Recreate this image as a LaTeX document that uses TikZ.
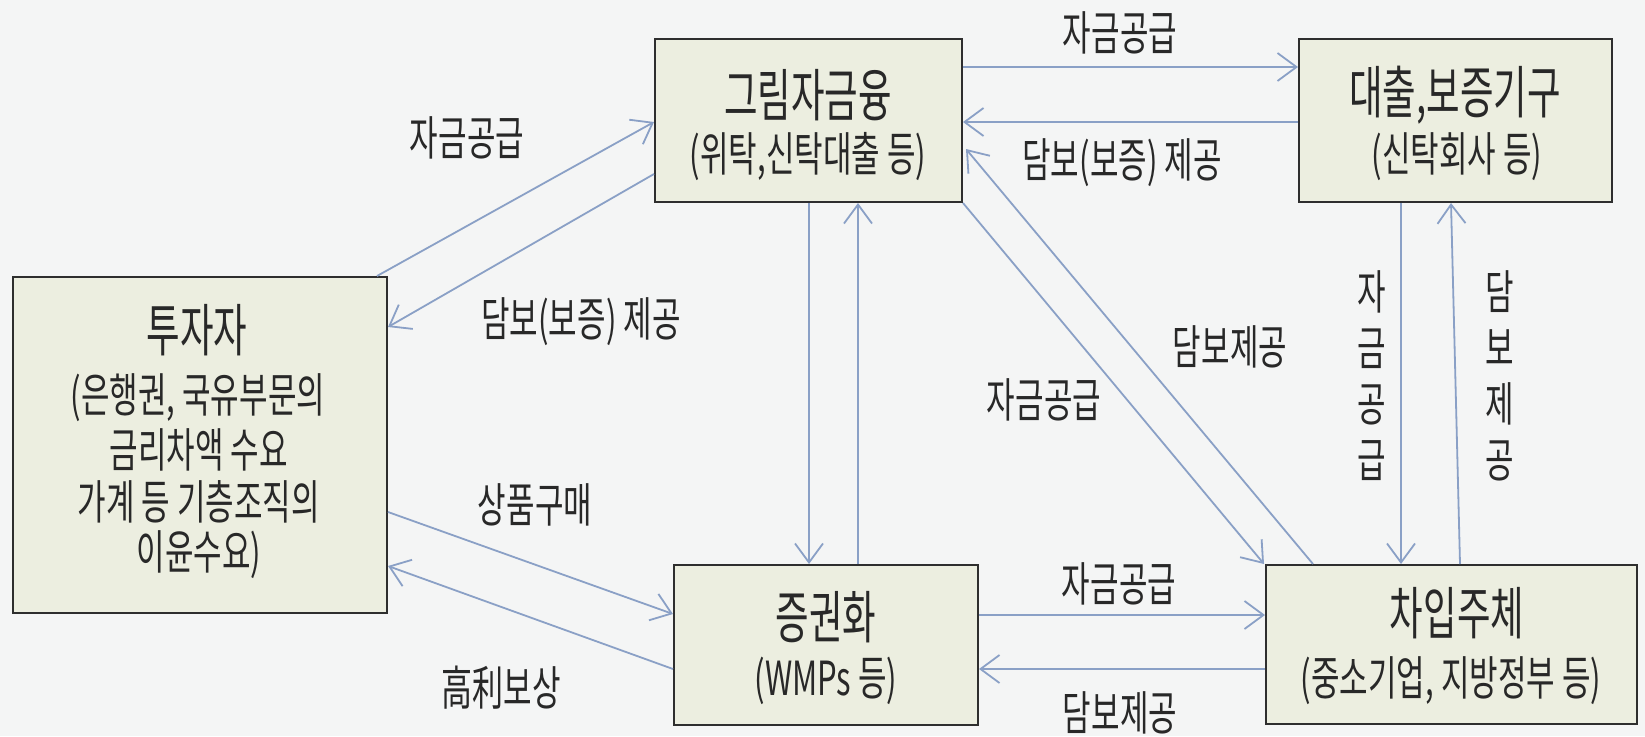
\documentclass[tikz,border=0pt]{standalone}
\usepackage{fontspec}
\usetikzlibrary{arrows.meta,calc}
\newfontfamily\krtitle[FakeStretch=0.64]{Noto Sans CJK KR}
\newfontfamily\krfont[FakeStretch=0.66]{Noto Sans CJK KR}
\newcommand\titlefont{\krtitle\fontsize{57}{62}\selectfont}
\newcommand\labfont{\krfont\fontsize{47}{52}\selectfont}
\newcommand\vlabfont{\krfont\fontsize{47}{56}\selectfont}
\definecolor{bgc}{HTML}{F4F5F5}
\definecolor{boxfill}{HTML}{ECEEE0}
\definecolor{boxline}{HTML}{2E2E2E}
\definecolor{arrowc}{HTML}{8AA0C6}
\definecolor{textc}{HTML}{282828}
\tikzset{
  box/.style={draw=boxline, line width=2pt, fill=boxfill, inner sep=0pt},
  ttl/.style={text=textc, inner sep=0pt, font=\titlefont},
  lab/.style={text=textc, inner sep=0pt, font=\labfont},
  vlab/.style={text=textc, inner sep=0pt, font=\vlabfont, align=center},
  conn/.style={draw=arrowc, line width=1.8pt, -{Straight Barb[length=19pt,width=28pt,line width=1.8pt]}}
}
\begin{document}
\begin{tikzpicture}[x=1pt,y=-1pt]
\fill[bgc] (0,0) rectangle (1645,736);
\useasboundingbox (0,0) rectangle (1645,736);
% boxes
\node[box, minimum width=374pt, minimum height=336pt] (T) at (200,445) {};
\node[box, minimum width=307pt, minimum height=163pt] (G) at (808.5,120.5) {};
\node[box, minimum width=313pt, minimum height=163pt] (L) at (1455.5,120.5) {};
\node[box, minimum width=304pt, minimum height=160pt] (S) at (826,645) {};
\node[box, minimum width=371pt, minimum height=159pt] (C) at (1451.5,644.5) {};
% box texts
\node[ttl] (Gt) at (808,95) {그림자금융};
\node[lab] (Gs) at (808,157) {(위탁,신탁대출 등)};
\node[ttl] (Lt) at (1455,95) {대출,보증기구};
\node[lab] (Ls) at (1457,157) {(신탁회사 등)};
\node[ttl] (St) at (826,617) {증권화};
\node[lab] (Ss) at (826,681) {(WMPs 등)};
\node[ttl] (Ct) at (1457,613) {차입주체};
\node[lab] (Cs) at (1451,681) {(중소기업, 지방정부 등)};
\node[ttl] (Tt) at (197,330) {투자자};
\node[lab] (T1) at (198,398) {(은행권, 국유부문의};
\node[lab] (T2) at (199,450) {금리차액 수요};
\node[lab] (T3) at (199,502) {가계 등 기층조직의};
\node[lab] (T4) at (199,555) {이윤수요)};
% connectors
\draw[conn] ($(T.north east)+(-11,0)$) -- ($(G.north west)+(0,84)$);
\draw[conn] ($(G.north west)+(0,136)$) -- ($(T.north east)+(0,51)$);
\draw[conn] ($(T.north east)+(0,236)$) -- ($(S.north west)+(0,50)$);
\draw[conn] ($(S.north west)+(0,105)$) -- ($(T.north east)+(0,290)$);
\draw[conn] ($(G.south west)+(155,0)$) -- ($(S.north west)+(136,0)$);
\draw[conn] ($(S.north west)+(185,0)$) -- ($(G.south west)+(204,0)$);
\draw[conn] ($(G.north east)+(0,29)$) -- ($(L.north west)+(0,29)$);
\draw[conn] ($(L.north west)+(0,84)$) -- ($(G.north east)+(0,84)$);
\draw[conn] (G.south east) -- ($(C.north west)+(-1,0)$);
\draw[conn] ($(C.north west)+(48,0)$) -- ($(G.north east)+(3,111)$);
\draw[conn] ($(L.south west)+(103,0)$) -- ($(C.north west)+(136,0)$);
\draw[conn] ($(C.north west)+(195,0)$) -- ($(L.south west)+(153,0)$);
\draw[conn] ($(S.north east)+(0,51)$) -- ($(C.north west)+(0,51)$);
\draw[conn] ($(C.north west)+(0,105)$) -- ($(S.north east)+(0,105)$);
% connector labels
\node[lab] (l1) at (1120,33) {자금공급};
\node[lab] (l2) at (1122,163) {담보(보증) 제공};
\node[lab] (l3) at (467,138) {자금공급};
\node[lab] (l4) at (581,322) {담보(보증) 제공};
\node[lab] (l5) at (1230,347) {담보제공};
\node[lab] (l6) at (1044,400) {자금공급};
\node[lab] (l7) at (535,505) {상품구매};
\node[lab] (l8) at (501,688) {高利보상};
\node[lab] (l9) at (1119,584) {자금공급};
\node[lab] (l10) at (1120,713) {담보제공};
\node[vlab] (v1) at (1372,376) {자\\금\\공\\급};
\node[vlab] (v2) at (1500,376) {담\\보\\제\\공};
\end{tikzpicture}
\end{document}
